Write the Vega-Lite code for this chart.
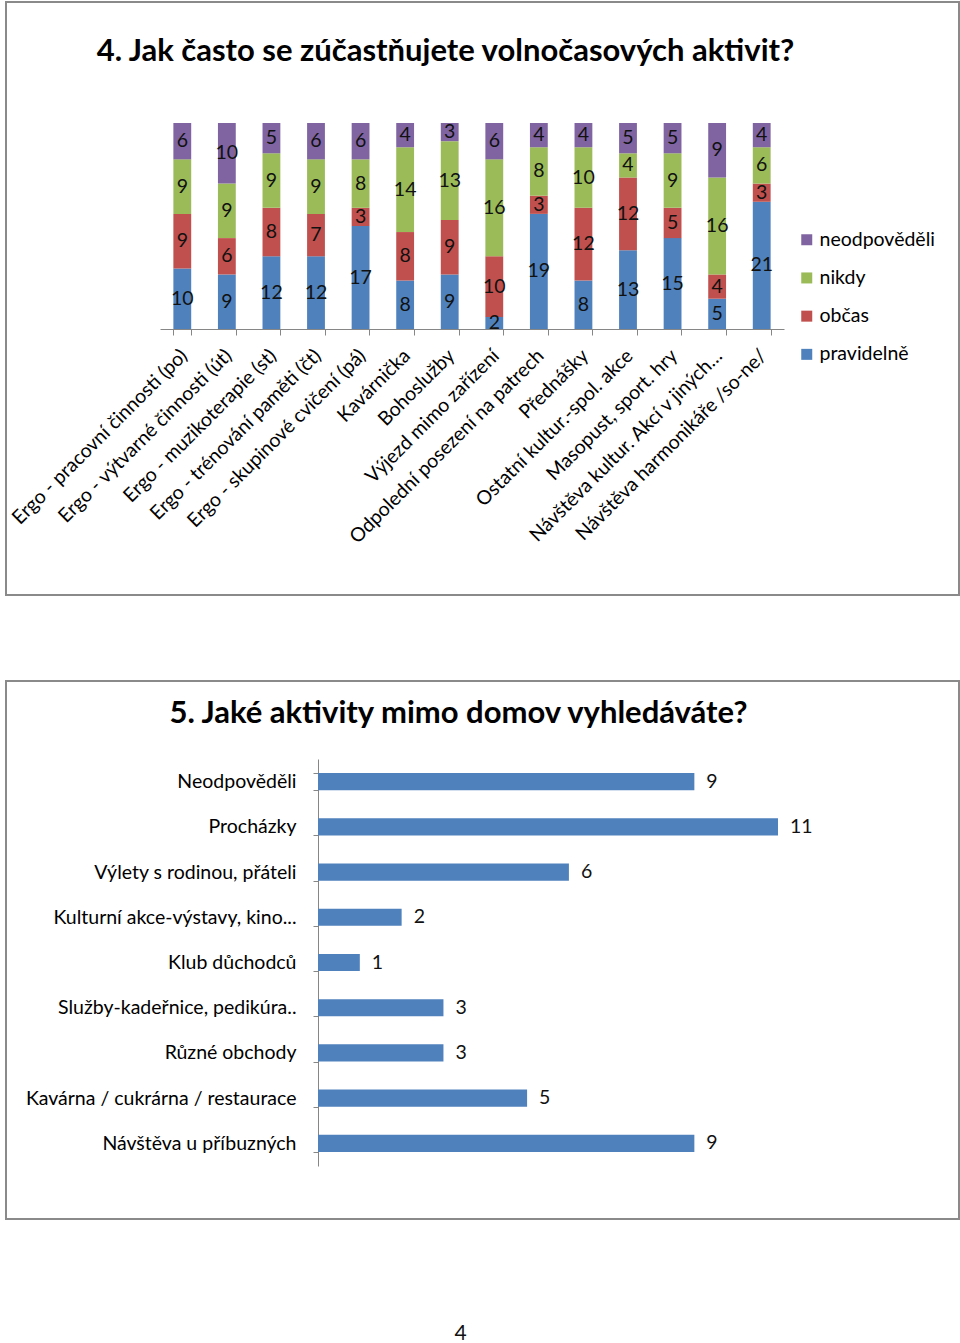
{
  "$schema": "https://vega.github.io/schema/vega-lite/v6.json",
  "padding": {"left": 4, "top": 1, "right": 2, "bottom": 0},
  "background": "white",
  "spacing": 74,
  "config": {
    "font": "Lato",
    "view": {"stroke": null},
    "text": {"font": "Lato"},
    "axis": {"labelFont": "Lato"},
    "legend": {"labelFont": "Lato"}
  },
  "datasets": {
    "aktivity": [
      {"aktivita": "Ergo - pracovní činnosti (po)", "odpoved": "pravidelně", "pocet": 10},
      {"aktivita": "Ergo - pracovní činnosti (po)", "odpoved": "občas", "pocet": 9},
      {"aktivita": "Ergo - pracovní činnosti (po)", "odpoved": "nikdy", "pocet": 9},
      {"aktivita": "Ergo - pracovní činnosti (po)", "odpoved": "neodpověděli", "pocet": 6},
      {"aktivita": "Ergo - výtvarné činnosti (út)", "odpoved": "pravidelně", "pocet": 9},
      {"aktivita": "Ergo - výtvarné činnosti (út)", "odpoved": "občas", "pocet": 6},
      {"aktivita": "Ergo - výtvarné činnosti (út)", "odpoved": "nikdy", "pocet": 9},
      {"aktivita": "Ergo - výtvarné činnosti (út)", "odpoved": "neodpověděli", "pocet": 10},
      {"aktivita": "Ergo - muzikoterapie (st)", "odpoved": "pravidelně", "pocet": 12},
      {"aktivita": "Ergo - muzikoterapie (st)", "odpoved": "občas", "pocet": 8},
      {"aktivita": "Ergo - muzikoterapie (st)", "odpoved": "nikdy", "pocet": 9},
      {"aktivita": "Ergo - muzikoterapie (st)", "odpoved": "neodpověděli", "pocet": 5},
      {"aktivita": "Ergo - trénování paměti (čt)", "odpoved": "pravidelně", "pocet": 12},
      {"aktivita": "Ergo - trénování paměti (čt)", "odpoved": "občas", "pocet": 7},
      {"aktivita": "Ergo - trénování paměti (čt)", "odpoved": "nikdy", "pocet": 9},
      {"aktivita": "Ergo - trénování paměti (čt)", "odpoved": "neodpověděli", "pocet": 6},
      {"aktivita": "Ergo - skupinové cvičení (pá)", "odpoved": "pravidelně", "pocet": 17},
      {"aktivita": "Ergo - skupinové cvičení (pá)", "odpoved": "občas", "pocet": 3},
      {"aktivita": "Ergo - skupinové cvičení (pá)", "odpoved": "nikdy", "pocet": 8},
      {"aktivita": "Ergo - skupinové cvičení (pá)", "odpoved": "neodpověděli", "pocet": 6},
      {"aktivita": "Kavárnička", "odpoved": "pravidelně", "pocet": 8},
      {"aktivita": "Kavárnička", "odpoved": "občas", "pocet": 8},
      {"aktivita": "Kavárnička", "odpoved": "nikdy", "pocet": 14},
      {"aktivita": "Kavárnička", "odpoved": "neodpověděli", "pocet": 4},
      {"aktivita": "Bohoslužby", "odpoved": "pravidelně", "pocet": 9},
      {"aktivita": "Bohoslužby", "odpoved": "občas", "pocet": 9},
      {"aktivita": "Bohoslužby", "odpoved": "nikdy", "pocet": 13},
      {"aktivita": "Bohoslužby", "odpoved": "neodpověděli", "pocet": 3},
      {"aktivita": "Výjezd mimo zařízení", "odpoved": "pravidelně", "pocet": 2},
      {"aktivita": "Výjezd mimo zařízení", "odpoved": "občas", "pocet": 10},
      {"aktivita": "Výjezd mimo zařízení", "odpoved": "nikdy", "pocet": 16},
      {"aktivita": "Výjezd mimo zařízení", "odpoved": "neodpověděli", "pocet": 6},
      {"aktivita": "Odpolední posezení na patrech", "odpoved": "pravidelně", "pocet": 19},
      {"aktivita": "Odpolední posezení na patrech", "odpoved": "občas", "pocet": 3},
      {"aktivita": "Odpolední posezení na patrech", "odpoved": "nikdy", "pocet": 8},
      {"aktivita": "Odpolední posezení na patrech", "odpoved": "neodpověděli", "pocet": 4},
      {"aktivita": "Přednášky", "odpoved": "pravidelně", "pocet": 8},
      {"aktivita": "Přednášky", "odpoved": "občas", "pocet": 12},
      {"aktivita": "Přednášky", "odpoved": "nikdy", "pocet": 10},
      {"aktivita": "Přednášky", "odpoved": "neodpověděli", "pocet": 4},
      {"aktivita": "Ostatní kultur.-spol. akce", "odpoved": "pravidelně", "pocet": 13},
      {"aktivita": "Ostatní kultur.-spol. akce", "odpoved": "občas", "pocet": 12},
      {"aktivita": "Ostatní kultur.-spol. akce", "odpoved": "nikdy", "pocet": 4},
      {"aktivita": "Ostatní kultur.-spol. akce", "odpoved": "neodpověděli", "pocet": 5},
      {"aktivita": "Masopust, sport. hry", "odpoved": "pravidelně", "pocet": 15},
      {"aktivita": "Masopust, sport. hry", "odpoved": "občas", "pocet": 5},
      {"aktivita": "Masopust, sport. hry", "odpoved": "nikdy", "pocet": 9},
      {"aktivita": "Masopust, sport. hry", "odpoved": "neodpověděli", "pocet": 5},
      {"aktivita": "Návštěva kultur. Akcí v jiných…", "odpoved": "pravidelně", "pocet": 5},
      {"aktivita": "Návštěva kultur. Akcí v jiných…", "odpoved": "občas", "pocet": 4},
      {"aktivita": "Návštěva kultur. Akcí v jiných…", "odpoved": "nikdy", "pocet": 16},
      {"aktivita": "Návštěva kultur. Akcí v jiných…", "odpoved": "neodpověděli", "pocet": 9},
      {"aktivita": "Návštěva harmonikáře /so-ne/", "odpoved": "pravidelně", "pocet": 21},
      {"aktivita": "Návštěva harmonikáře /so-ne/", "odpoved": "občas", "pocet": 3},
      {"aktivita": "Návštěva harmonikáře /so-ne/", "odpoved": "nikdy", "pocet": 6},
      {"aktivita": "Návštěva harmonikáře /so-ne/", "odpoved": "neodpověděli", "pocet": 4}
    ],
    "mimo": [
      {"aktivita": "Neodpověděli", "pocet": 9},
      {"aktivita": "Procházky", "pocet": 11},
      {"aktivita": "Výlety s rodinou, přáteli", "pocet": 6},
      {"aktivita": "Kulturní akce-výstavy, kino...", "pocet": 2},
      {"aktivita": "Klub důchodců", "pocet": 1},
      {"aktivita": "Služby-kadeřnice, pedikúra..", "pocet": 3},
      {"aktivita": "Různé obchody", "pocet": 3},
      {"aktivita": "Kavárna / cukrárna / restaurace", "pocet": 5},
      {"aktivita": "Návštěva u příbuzných", "pocet": 9}
    ],
    "strana": [{"cislo": "4"}]
  },
  "vconcat": [
    {
      "width": 953,
      "height": 593,
      "view": {"stroke": "#8a8a8a", "strokeWidth": 2},
      "title": {
        "text": "4. Jak často se zúčastňujete volnočasových aktivit?",
        "font": "Lato", "fontSize": 31, "fontWeight": "bold", "color": "#000000",
        "anchor": "middle", "frame": "group", "offset": -66, "dx": -37
      },
      "data": {"name": "aktivity"},
      "transform": [
        {"stack": "pocet", "groupby": ["aktivita"], "sort": [{"field": "odpoved", "order": "descending"}], "as": ["y0", "y1"]}
      ],
      "layer": [
        {
          "mark": {"type": "bar"},
          "encoding": {
            "x": {
              "field": "aktivita", "type": "nominal",
              "sort": ["Ergo - pracovní činnosti (po)", "Ergo - výtvarné činnosti (út)", "Ergo - muzikoterapie (st)", "Ergo - trénování paměti (čt)", "Ergo - skupinové cvičení (pá)", "Kavárnička", "Bohoslužby", "Výjezd mimo zařízení", "Odpolední posezení na patrech", "Přednášky", "Ostatní kultur.-spol. akce", "Masopust, sport. hry", "Návštěva kultur. Akcí v jiných…", "Návštěva harmonikáře /so-ne/"],
              "scale": {"range": [154, 778], "paddingInner": 0.6, "paddingOuter": 0.3},
              "axis": {
                "orient": "bottom", "offset": -266, "title": null,
                "labelAngle": -45, "labelFontSize": 19.5, "labelColor": "#000000", "labelPadding": 11, "labelOffset": -5,
                "labelLimit": 500, "labelOverlap": false,
                "domainColor": "#868686", "tickColor": "#868686", "tickSize": 6, "tickBand": "extent"
              }
            },
            "y": {"field": "y0", "type": "quantitative", "scale": {"domain": [0, 34], "range": [327, 121], "nice": false}, "axis": null},
            "y2": {"field": "y1"},
            "color": {
              "field": "odpoved", "type": "nominal",
              "scale": {"domain": ["neodpověděli", "nikdy", "občas", "pravidelně"], "range": ["#8064A2", "#9BBB59", "#C0504D", "#4F81BD"]},
              "legend": {
                "orient": "none", "legendX": 791, "legendY": 228, "title": null,
                "symbolType": "square", "symbolSize": 121, "symbolStrokeWidth": 0,
                "labelFontSize": 19.5, "labelColor": "#000000", "rowPadding": 17.2, "labelOffset": 3
              }
            }
          }
        },
        {
          "transform": [
            {"fold": ["y0", "y1"], "as": ["hrana", "poloha"]},
            {"aggregate": [{"op": "mean", "field": "poloha", "as": "stred"}], "groupby": ["aktivita", "odpoved", "pocet"]}
          ],
          "mark": {"type": "text", "fontSize": 19.5, "color": "#111111", "baseline": "middle"},
          "encoding": {
            "x": {
              "field": "aktivita", "type": "nominal",
              "sort": ["Ergo - pracovní činnosti (po)", "Ergo - výtvarné činnosti (út)", "Ergo - muzikoterapie (st)", "Ergo - trénování paměti (čt)", "Ergo - skupinové cvičení (pá)", "Kavárnička", "Bohoslužby", "Výjezd mimo zařízení", "Odpolední posezení na patrech", "Přednášky", "Ostatní kultur.-spol. akce", "Masopust, sport. hry", "Návštěva kultur. Akcí v jiných…", "Návštěva harmonikáře /so-ne/"]
            },
            "y": {"field": "stred", "type": "quantitative", "axis": null},
            "text": {"field": "pocet", "type": "quantitative"}
          }
        }
      ]
    },
    {
      "width": 953,
      "height": 538,
      "view": {"stroke": "#8a8a8a", "strokeWidth": 2},
      "title": {
        "text": "5. Jaké aktivity mimo domov vyhledáváte?",
        "font": "Lato", "fontSize": 31, "fontWeight": "bold", "color": "#000000",
        "anchor": "middle", "frame": "group", "offset": -59, "dx": -24
      },
      "data": {"name": "mimo"},
      "layer": [
        {
          "mark": {"type": "bar", "color": "#4F81BD"},
          "encoding": {
            "y": {
              "field": "aktivita", "type": "nominal",
              "sort": ["Neodpověděli", "Procházky", "Výlety s rodinou, přáteli", "Kulturní akce-výstavy, kino...", "Klub důchodců", "Služby-kadeřnice, pedikúra..", "Různé obchody", "Kavárna / cukrárna / restaurace", "Návštěva u příbuzných"],
              "scale": {"range": [78, 485], "paddingInner": 0.62, "paddingOuter": 0.31},
              "axis": {
                "orient": "left", "offset": -312, "title": null,
                "labelFontSize": 19.5, "labelColor": "#000000", "labelPadding": 17, "labelLimit": 500,
                "domainColor": "#868686", "tickColor": "#868686", "tickSize": 5, "tickBand": "extent"
              }
            },
            "x": {"field": "pocet", "type": "quantitative", "scale": {"domain": [0, 11], "range": [312, 772], "nice": false}, "axis": null}
          }
        },
        {
          "mark": {"type": "text", "align": "left", "baseline": "middle", "dx": 12, "fontSize": 19.5, "color": "#111111"},
          "encoding": {
            "y": {
              "field": "aktivita", "type": "nominal",
              "sort": ["Neodpověděli", "Procházky", "Výlety s rodinou, přáteli", "Kulturní akce-výstavy, kino...", "Klub důchodců", "Služby-kadeřnice, pedikúra..", "Různé obchody", "Kavárna / cukrárna / restaurace", "Návštěva u příbuzných"]
            },
            "x": {"field": "pocet", "type": "quantitative"},
            "text": {"field": "pocet", "type": "quantitative"}
          }
        }
      ]
    },
    {
      "width": 953,
      "height": 39,
      "data": {"name": "strana"},
      "mark": {"type": "text", "fontSize": 21, "color": "#111111", "dx": -22, "dy": 20, "baseline": "middle"},
      "encoding": {"text": {"field": "cislo", "type": "nominal"}}
    }
  ]
}
